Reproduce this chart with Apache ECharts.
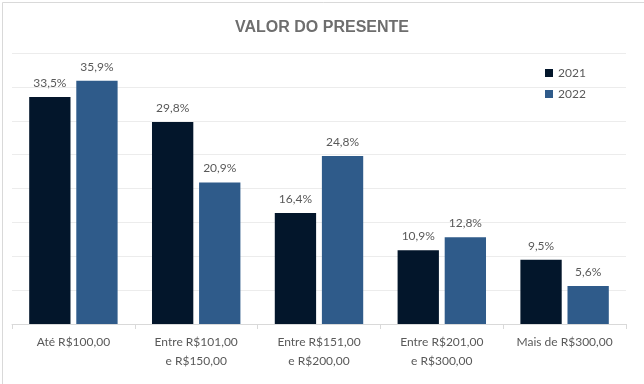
<!DOCTYPE html>
<html>
<head>
<meta charset="utf-8">
<script src="https://cdn.jsdelivr.net/npm/echarts@6/dist/echarts.min.js"></script>
<style>
html,body{margin:0;padding:0;background:#fff;}
#c{width:644px;height:384px;}
</style>
</head>
<body>
<div id="c"></div>
<script>
const categories = ['Até R$100,00', 'Entre R$101,00\ne R$150,00', 'Entre R$151,00\ne R$200,00', 'Entre R$201,00\ne R$300,00', 'Mais de R$300,00'];
const series2021 = [33.5, 29.8, 16.4, 10.9, 9.5];
const series2022 = [35.9, 20.9, 24.8, 12.8, 5.6];
const seriesNames = ['2021', '2022'];

const fmt = p => p.value.toFixed(1).replace('.', ',') + '%';
const font = 'Lato, "Open Sans", sans-serif';
const chart = echarts.init(document.getElementById('c'), null, {renderer: 'canvas'});
chart.setOption({
  animation: false,
  backgroundColor: '#fff',
  graphic: [{
    type: 'rect', left: 0, top: 0, z: -1,
    shape: {x: 0.5, y: 0.5, width: 643, height: 383},
    style: {fill: 'none', stroke: '#d9d9d9', lineWidth: 1}
  }],
  title: {
    text: 'VALOR DO PRESENTE',
    left: 'center', top: 15,
    textStyle: {fontFamily: '"Liberation Sans", Arial, sans-serif', fontWeight: 'bold', fontSize: 16, color: '#6e6e6e'}
  },
  legend: {
    orient: 'vertical', left: 540, top: 62, itemGap: 9,
    itemWidth: 8, itemHeight: 8, icon: 'rect',
    textStyle: {fontFamily: font, fontSize: 12, color: '#595959'},
    data: seriesNames
  },
  grid: {left: 12, right: 18, top: 53, bottom: 60, containLabel: false},
  xAxis: {
    type: 'category', data: categories,
    axisLine: {lineStyle: {color: '#d9d9d9'}},
    axisTick: {show: true, lineStyle: {color: '#d9d9d9'}, length: 5},
    axisLabel: {interval: 0, fontFamily: font, fontSize: 12, color: '#595959', lineHeight: 19, margin: 9}
  },
  yAxis: {
    type: 'value', min: 0, max: 40, interval: 5,
    axisLabel: {show: false},
    axisLine: {show: false}, axisTick: {show: false},
    splitLine: {lineStyle: {color: '#ececec'}}
  },
  series: [
    {name: seriesNames[0], type: 'bar', data: series2021, barGap: '14%', barCategoryGap: '28%',
     itemStyle: {color: '#03162b'},
     label: {show: true, position: 'top', formatter: fmt, distance: 8, fontFamily: font, fontSize: 12, color: '#595959'}},
    {name: seriesNames[1], type: 'bar', data: series2022,
     itemStyle: {color: '#2f5b8a'},
     label: {show: true, position: 'top', formatter: fmt, distance: 8, fontFamily: font, fontSize: 12, color: '#595959'}}
  ]
});
</script>
</body>
</html>
